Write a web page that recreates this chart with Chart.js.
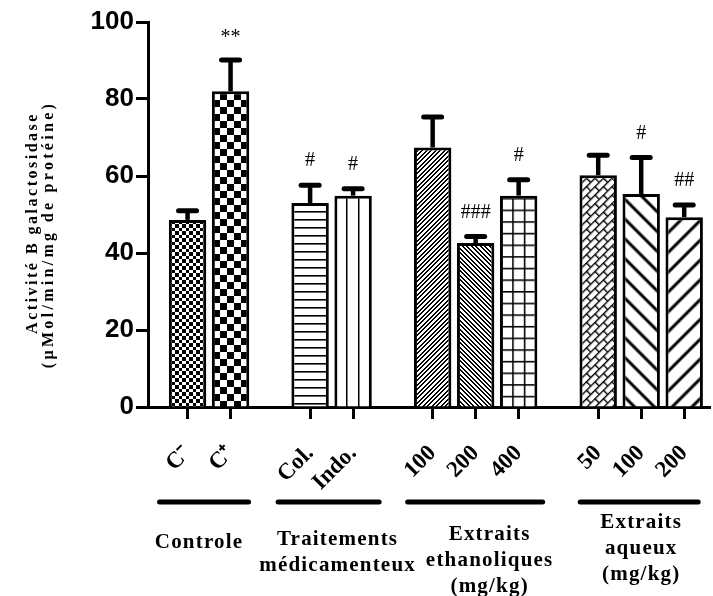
<!DOCTYPE html>
<html>
<head>
<meta charset="utf-8">
<script src="https://cdn.jsdelivr.net/npm/chart.js@4"></script>
<style>
  html, body { margin: 0; padding: 0; background: #fff; }
  canvas { display: block; }
</style>
</head>
<body>
<canvas id="c" width="713" height="596"></canvas>
<script>
// ---------------- data ----------------
const categories = ['C\u207B', 'C\u207A', 'Col.', 'Indo.', '100', '200', '400', '50', '100', '200'];
const groupOf    = [0, 0, 1, 1, 2, 2, 2, 3, 3, 3];
const groupNames = [
  ['Controle'],
  ['Traitements', 'médicamenteux'],
  ['Extraits', 'ethanoliques', '(mg/kg)'],
  ['Extraits', 'aqueux', '(mg/kg)']
];
const means  = [48.6, 82.0, 53.0, 54.9, 67.4, 42.6, 54.9, 60.2, 55.3, 49.3];
const sem    = [2.4, 8.1, 4.6, 1.8, 7.9, 1.7, 4.1, 5.2, 9.5, 3.2];
const signif = ['', '**', '#', '#', '', '###', '#', '', '#', '##'];
const yTicks = [0, 20, 40, 60, 80, 100];
const yTitle = ['Activité B galactosidase', '(\u00B5Mol/min/mg de protéine)'];

// ---------------- layout helpers ----------------
const GROUP_GAP = 0.85;                       // extra slot space between groups
const xPos = categories.map((_, i) => i + groupOf[i] * GROUP_GAP);
const groupLabelTop = [543, 540, 535, 523];   // first text line centre (px)
const groupLabelDx  = [-10, 6, 14, 0];
const groupLineExt  = [[28, 18], [32, 26], [25, 24], [18, 14]];
const yTitleLayout  = [{ x: 33, y: 223, sp: 2.5 }, { x: 48.5, y: 234.5, sp: 3.3 }];

// ---------------- patterns ----------------
function tile(w, h, draw) {
  const c = document.createElement('canvas');
  c.width = w; c.height = h;
  const g = c.getContext('2d');
  g.fillStyle = '#fff'; g.fillRect(0, 0, w, h);
  g.fillStyle = '#000'; g.strokeStyle = '#000';
  draw(g, w, h);
  return c;
}
const ctx0 = document.getElementById('c').getContext('2d');
function pat(canvas, matrix) {
  const p = ctx0.createPattern(canvas, 'repeat');
  if (matrix) p.setTransform(matrix);
  return p;
}
function stripes(period, lw, angle, scale) {
  const c = tile(8, period, (g, w, h) => { g.fillRect(0, (h - lw) / 2, w, lw); });
  let m = new DOMMatrix().rotateSelf(angle);
  if (scale) m = m.scaleSelf(scale, scale);
  return pat(c, m);
}
function pixelDiag(dir) {
  // crisp stair-step diagonal lines, period alternating 4 / 5 px
  return pat(tile(9, 9, g => {
    for (let yy = 0; yy < 9; yy++) for (let xx = 0; xx < 9; xx++) {
      const k = ((dir > 0 ? xx + yy : xx - yy) % 9 + 9) % 9;
      if (k === 0 || k === 1 || k === 4 || k === 5) g.fillRect(xx, yy, 1, 1);
    }
  }));
}
const patterns = [
  // C- fine checker
  pat(tile(7, 7, g => { g.fillRect(0, 0, 4, 4); g.fillRect(4, 4, 3, 3); })),
  // C+ big checker
  pat(tile(14, 14, g => { g.fillRect(0, 0, 7, 7); g.fillRect(7, 7, 7, 7); }), new DOMMatrix().translateSelf(3, 2)),
  // Col horizontal lines
  pat(tile(8, 8, g => { g.fillRect(0, 3, 8, 1.6); })),
  // Indo vertical lines
  pat(tile(12, 8, g => { g.fillRect(10, 0, 1.5, 8); })),
  // 100 fine /
  pixelDiag(1),
  // 200 fine \
  pixelDiag(-1),
  // 400 grid
  pat(tile(12, 12, g => { g.fillRect(0, 0, 12, 1.6); g.fillRect(0, 0, 1.6, 12); }), new DOMMatrix().scaleSelf(0.97, 0.97)),
  // 50 brick rotated
  pat(tile(12, 12, g => {
    g.fillRect(0, 0, 12, 1.4); g.fillRect(0, 6, 12, 1.4);
    g.fillRect(0, 0, 1.4, 6); g.fillRect(6, 6, 1.4, 6);
  }), new DOMMatrix().rotateSelf(-45)),
  // 100 thick \
  stripes(14, 3, 45),
  // 200 thick /
  stripes(14, 3, -45)
];

// ---------------- plugin: error bars, signs, group labels, y title ----------------
const extras = {
  id: 'extras',
  afterDatasetsDraw(chart) {
    const { ctx, scales: { x, y } } = chart;
    ctx.save();
    ctx.strokeStyle = '#000';
    ctx.fillStyle = '#000';
    means.forEach((m, i) => {
      const px = x.getPixelForValue(xPos[i]);
      const top = y.getPixelForValue(m + sem[i]);
      const base = y.getPixelForValue(m);
      ctx.lineCap = 'butt';
      ctx.lineWidth = 4.5;
      ctx.beginPath(); ctx.moveTo(px, base); ctx.lineTo(px, top); ctx.stroke();
      ctx.lineCap = 'round';
      ctx.lineWidth = 5;
      ctx.beginPath(); ctx.moveTo(px - 9, top); ctx.lineTo(px + 9, top); ctx.stroke();
      if (signif[i]) {
        ctx.font = '20px "Liberation Serif"';
        ctx.textAlign = 'center';
        ctx.textBaseline = 'middle';
        ctx.fillText(signif[i], px, top - (signif[i] === '**' ? 22 : 24));
      }
    });
    ctx.restore();
  },
  afterDraw(chart) {
    const { ctx, scales: { x } } = chart;
    ctx.save();
    ctx.fillStyle = '#000';
    ctx.strokeStyle = '#000';
    // group lines and names
    groupNames.forEach((lines, gi) => {
      const idx = groupOf.map((g, i) => g === gi ? i : -1).filter(i => i >= 0);
      const x0 = x.getPixelForValue(xPos[idx[0]]);
      const x1 = x.getPixelForValue(xPos[idx[idx.length - 1]]);
      ctx.lineWidth = 5;
      ctx.lineCap = 'round';
      ctx.beginPath();
      ctx.moveTo(x0 - groupLineExt[gi][0], 502);
      ctx.lineTo(x1 + groupLineExt[gi][1], 502);
      ctx.stroke();
      const cx = (x0 + x1) / 2 + groupLabelDx[gi];
      ctx.font = 'bold 21px "Liberation Serif"';
      ctx.letterSpacing = '1.2px';
      ctx.textAlign = 'center';
      ctx.textBaseline = 'middle';
      lines.forEach((t, li) => ctx.fillText(t, cx, groupLabelTop[gi] + li * 26));
    });
    // y axis title
    ctx.font = 'bold 16px "Liberation Serif"';
    ctx.textAlign = 'center';
    ctx.textBaseline = 'middle';
    yTitleLayout.forEach((L, li) => {
      ctx.save();
      ctx.letterSpacing = L.sp + 'px';
      ctx.translate(L.x, L.y);
      ctx.rotate(-Math.PI / 2);
      ctx.fillText(yTitle[li], 0, 0);
      ctx.restore();
    });
    ctx.restore();
  }
};

new Chart(document.getElementById('c'), {
  type: 'bar',
  data: {
    datasets: [{
      data: means.map((v, i) => ({ x: xPos[i], y: v })),
      backgroundColor: patterns,
      borderColor: '#000',
      borderWidth: 3,
      barPercentage: 0.87,
      categoryPercentage: 1.0
    }]
  },
  options: {
    responsive: false,
    animation: false,
    devicePixelRatio: 1,
    layout: { padding: { top: 22, right: 3, left: 0, bottom: 0 } },
    plugins: { legend: { display: false }, tooltip: { enabled: false } },
    scales: {
      x: {
        type: 'linear',
        offset: false,
        min: -0.92,
        max: 12.15,
        afterBuildTicks(s) { s.ticks = xPos.map(v => ({ value: v })); },
        afterFit(s) { s.height = 189; s.paddingLeft = 0; s.paddingRight = 0; },
        ticks: {
          autoSkip: false,
          minRotation: 45,
          maxRotation: 45,
          padding: 21,
          color: '#000',
          font: { family: 'Liberation Serif', weight: 'bold', size: 23 },
          callback: (v, i) => categories[i]
        },
        grid: { offset: false, drawOnChartArea: false, drawTicks: true, tickLength: 12, tickWidth: 3, tickColor: '#000' },
        border: { display: true, color: '#000', width: 3 }
      },
      y: {
        min: 0,
        max: 100,
        afterBuildTicks(s) { s.ticks = yTicks.map(v => ({ value: v })); },
        afterFit(s) { s.width = 148; },
        ticks: {
          padding: 2,
          color: '#000',
          font: { family: 'Liberation Sans', weight: 'bold', size: 26 }
        },
        grid: { drawOnChartArea: false, drawTicks: true, tickLength: 12, tickWidth: 3, tickColor: '#000' },
        border: { display: true, color: '#000', width: 3 }
      }
    }
  },
  plugins: [extras]
});
</script>
</body>
</html>
